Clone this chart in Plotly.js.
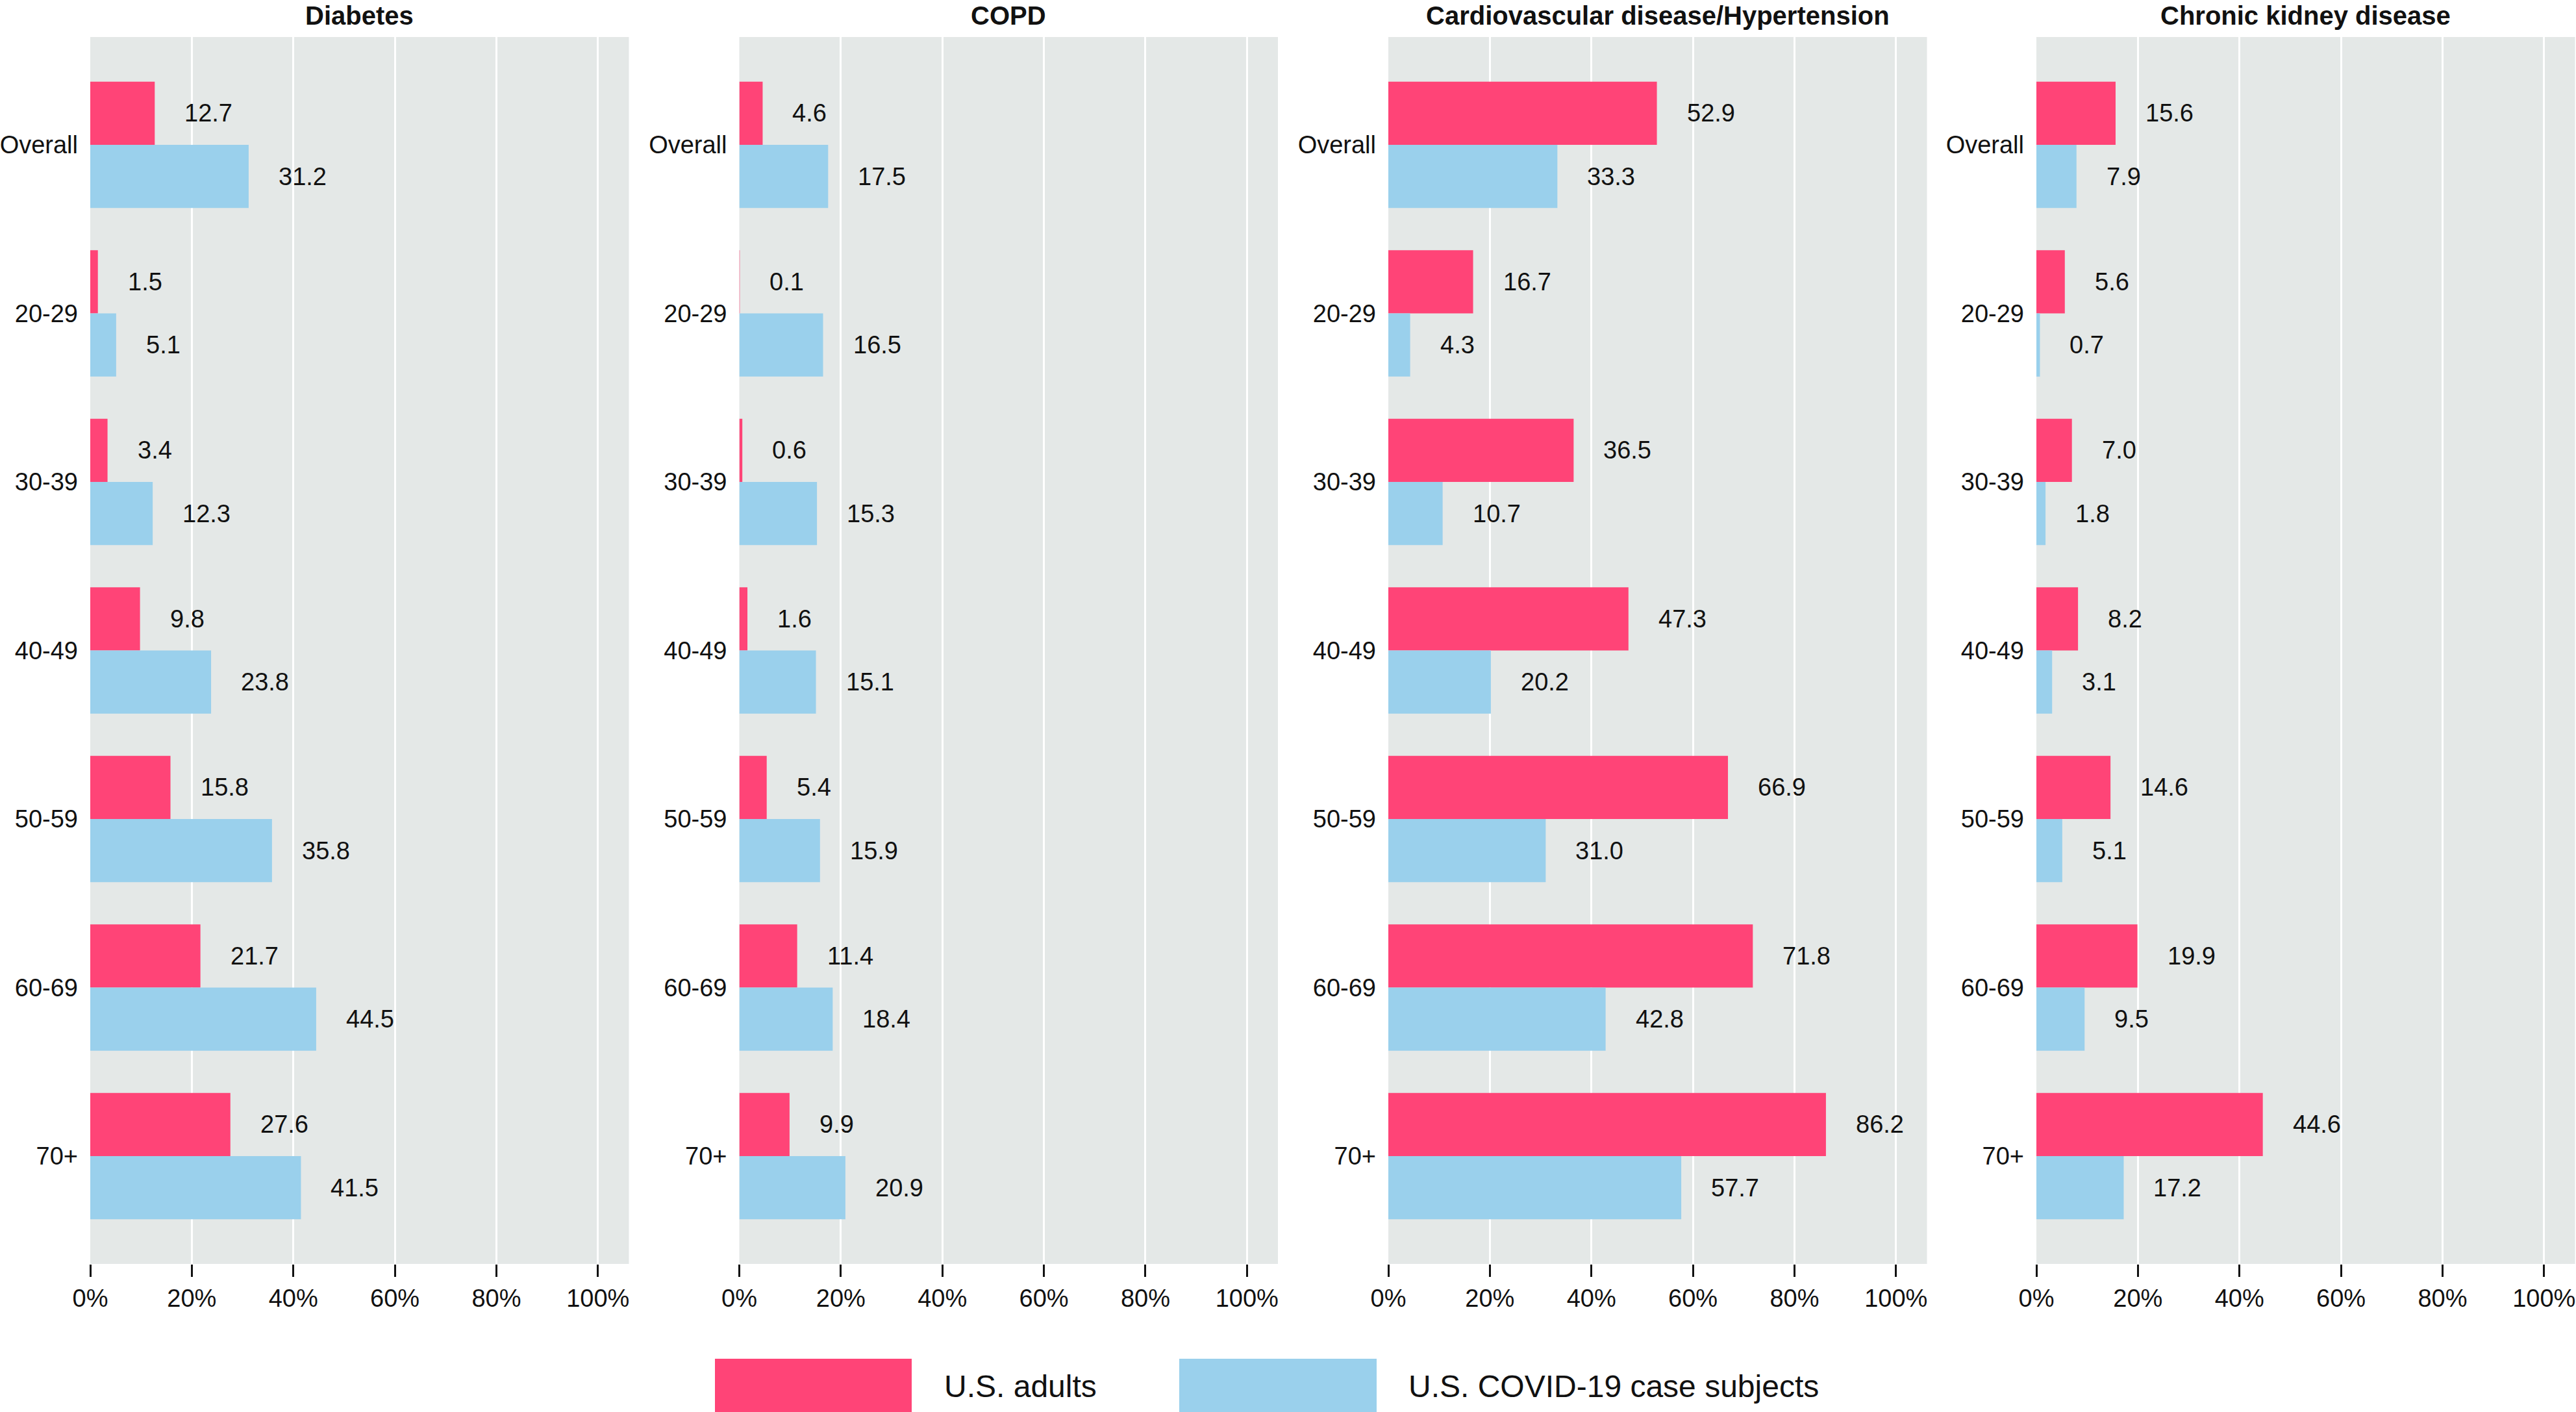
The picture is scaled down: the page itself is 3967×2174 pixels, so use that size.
<!DOCTYPE html>
<html>
<head>
<meta charset="utf-8">
<script src="https://cdn.plot.ly/plotly-3.0.1.min.js"></script>
<style>html,body{margin:0;padding:0;background:#fff}#chart{width:3967px;height:2174px}</style>
</head>
<body>
<div id="chart"></div>
<script>
// ---- data ----
var categories = ["Overall", "20-29", "30-39", "40-49", "50-59", "60-69", "70+"];
var panelTitles = ["Diabetes", "COPD", "Cardiovascular disease/Hypertension", "Chronic kidney disease"];
var seriesNames = ["U.S. adults", "U.S. COVID-19 case subjects"];

var diabetesAdults = [12.7, 1.5, 3.4, 9.8, 15.8, 21.7, 27.6];
var diabetesCovid  = [31.2, 5.1, 12.3, 23.8, 35.8, 44.5, 41.5];
var copdAdults     = [4.6, 0.1, 0.6, 1.6, 5.4, 11.4, 9.9];
var copdCovid      = [17.5, 16.5, 15.3, 15.1, 15.9, 18.4, 20.9];
var cvdAdults      = [52.9, 16.7, 36.5, 47.3, 66.9, 71.8, 86.2];
var cvdCovid       = [33.3, 4.3, 10.7, 20.2, 31.0, 42.8, 57.7];
var ckdAdults      = [15.6, 5.6, 7.0, 8.2, 14.6, 19.9, 44.6];
var ckdCovid       = [7.9, 0.7, 1.8, 3.1, 5.1, 9.5, 17.2];

var xTickVals = [0, 20, 40, 60, 80, 100];

// ---- styling / layout ----
var W = 3967, H = 2174;
var colors = ["#FF4477", "#9AD0EC"];
var FONT = "Liberation Sans, Arial, Helvetica, sans-serif";
var panelLeft = [139, 1138.5, 2138, 3136];
var panelWidth = 829.5;
var plotTop = 57, plotBottom = 1946;
var yRange = [6.64, -0.64];
var bargap = 0.25;

var panels = [
  [diabetesAdults, diabetesCovid],
  [copdAdults, copdCovid],
  [cvdAdults, cvdCovid],
  [ckdAdults, ckdCovid]
];

var bandPx = (plotBottom - plotTop) / (yRange[0] - yRange[1]);
var barPx = bandPx * (1 - bargap) / 2;

var data = [];
var annotations = [];
var layout = {
  width: W, height: H,
  margin: {l: 0, r: 0, t: 0, b: 0},
  paper_bgcolor: "#ffffff",
  plot_bgcolor: "#E4E8E7",
  barmode: "group",
  bargap: bargap,
  bargroupgap: 0,
  showlegend: false,
  font: {family: FONT, size: 38, color: "#111111"},
  shapes: []
};

panels.forEach(function (pair, p) {
  var xa = p === 0 ? "x" : "x" + (p + 1);
  var ya = p === 0 ? "y" : "y" + (p + 1);
  var xKey = p === 0 ? "xaxis" : "xaxis" + (p + 1);
  var yKey = p === 0 ? "yaxis" : "yaxis" + (p + 1);
  var d0 = panelLeft[p] / W, d1 = Math.min(1, (panelLeft[p] + panelWidth) / W);

  pair.forEach(function (vals, s) {
    data.push({
      type: "bar", orientation: "h",
      x: vals, y: categories,
      xaxis: xa, yaxis: ya,
      name: seriesNames[s],
      marker: {color: colors[s], line: {width: 0}},
      hoverinfo: "x+y"
    });
    vals.forEach(function (v, i) {
      annotations.push({
        xref: xa, yref: ya,
        x: v, y: categories[i],
        text: v.toFixed(1),
        showarrow: false,
        xanchor: "left", yanchor: "middle",
        xshift: 44,
        yshift: s === 0 ? barPx / 2 : -barPx / 2,
        font: {family: FONT, size: 38, color: "#111111"}
      });
    });
  });

  layout[xKey] = {
    domain: [d0, d1],
    anchor: ya,
    range: [0, 106.1],
    tickvals: xTickVals,
    ticktext: xTickVals.map(function (t) { return t + "%"; }),
    ticks: "outside", ticklen: 19, tickwidth: 3, tickcolor: "#111111",
    ticklabeloverflow: "allow",
    showgrid: true, gridcolor: "#ffffff", gridwidth: 3,
    zeroline: false, showline: false,
    tickfont: {family: FONT, size: 38, color: "#111111"},
    fixedrange: true
  };
  layout[yKey] = {
    domain: [1 - plotBottom / H, 1 - plotTop / H],
    anchor: xa,
    type: "category",
    categoryorder: "array", categoryarray: categories,
    range: yRange,
    showgrid: false, zeroline: false, showline: false,
    ticks: "", ticklabelstandoff: 18,
    tickfont: {family: FONT, size: 38, color: "#111111"},
    fixedrange: true
  };

  annotations.push({
    xref: "paper", yref: "paper",
    x: (d0 + d1) / 2, y: 1 - 24 / H,
    text: "<b>" + panelTitles[p] + "</b>",
    showarrow: false, xanchor: "center", yanchor: "middle",
    font: {family: FONT, size: 40, color: "#111111"}
  });
});

// legend (drawn manually with large keys)
var legendKeys = [[1101, 1404], [1816, 2120]];
var legendTextX = [1452, 2167];
seriesNames.forEach(function (name, s) {
  layout.shapes.push({
    type: "rect", xref: "paper", yref: "paper",
    x0: legendKeys[s][0] / W, x1: legendKeys[s][1] / W,
    y0: 0, y1: 1 - 2092 / H,
    fillcolor: colors[s], line: {width: 0}
  });
  annotations.push({
    xref: "paper", yref: "paper",
    x: legendTextX[s] / W, y: 1 - 2134 / H,
    text: name, showarrow: false,
    xanchor: "left", yanchor: "middle",
    font: {family: FONT, size: 48, color: "#111111"}
  });
});

layout.annotations = annotations;

Plotly.newPlot("chart", data, layout, {displayModeBar: false, staticPlot: true});
</script>
</body>
</html>
